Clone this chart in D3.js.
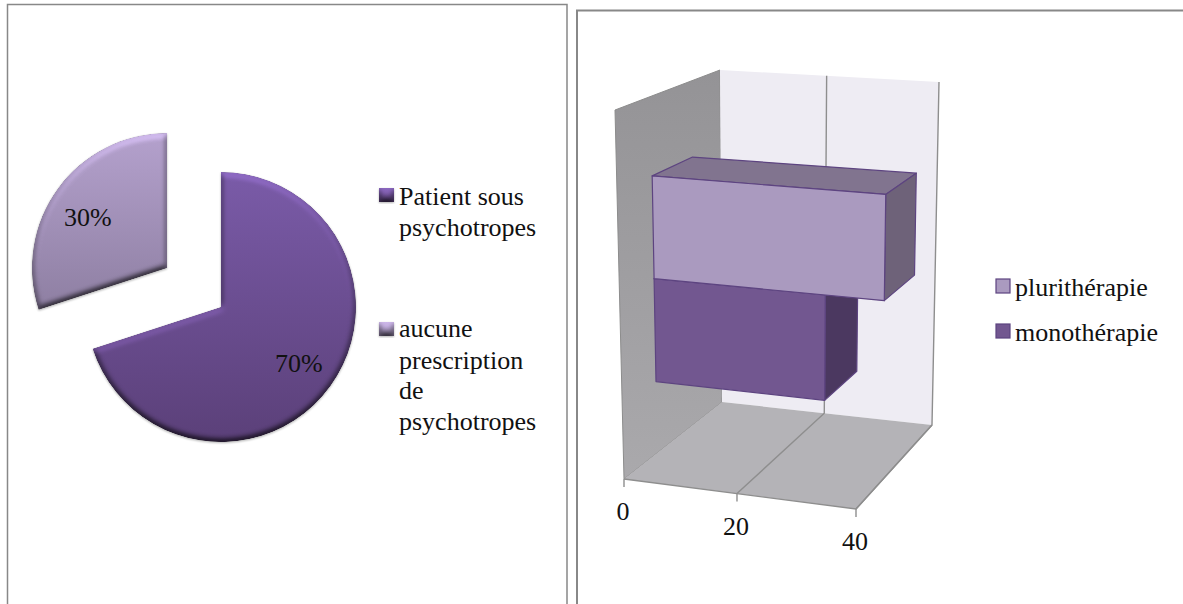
<!DOCTYPE html>
<html lang="fr">
<head>
    <meta charset="UTF-8">
    <title>Psychotropes</title>
    <style>
        html, body { margin: 0; padding: 0; background: #fff; overflow: hidden; }
        text { font-family: "Liberation Serif", serif; font-size: 26px; fill: #111; }
    </style>
</head>
<body>
<script src="https://cdn.jsdelivr.net/npm/d3@7"></script>
<script>
    // Data
    var pieLabels = ["Patient sous psychotropes", "aucune prescription de psychotropes"];
    var pieValues = [70, 30];
    var pieText = ["70%", "30%"];
    var barCategories = ["monothérapie", "plurithérapie"];
    var barValues = [30, 40];
    var xTicks = [0, 20, 40];

    var svg = d3.select("body").append("svg")
            .attr("width", 1183)
            .attr("height", 604);
    var defs = svg.append("defs");

    function gradient(id, top, bottom) {
        var g = defs.append("linearGradient").attr("id", id)
                .attr("x1", 0).attr("y1", 0).attr("x2", 0).attr("y2", 1);
        g.append("stop").attr("offset", "0%").attr("stop-color", top);
        g.append("stop").attr("offset", "100%").attr("stop-color", bottom);
    }
    gradient("gradDark", "#7a5ba8", "#5b4079");
    gradient("gradLight", "#b4a1cd", "#8e7fa2");
    gradient("gradWall", "#949396", "#aaa9ac");

    // Bevel look of the pie slices
    var bevel = defs.append("filter").attr("id", "bevel")
            .attr("x", "-10%").attr("y", "-10%").attr("width", "120%").attr("height", "120%")
            .attr("color-interpolation-filters", "sRGB");
    bevel.append("feGaussianBlur").attr("in", "SourceAlpha").attr("stdDeviation", 3).attr("result", "blur");
    var light = bevel.append("feDiffuseLighting").attr("in", "blur").attr("surfaceScale", 3.5)
            .attr("diffuseConstant", 1).attr("lighting-color", "#fff").attr("result", "lit");
    light.append("feDistantLight").attr("azimuth", 270).attr("elevation", 60);
    bevel.append("feComposite").attr("in", "SourceGraphic").attr("in2", "lit")
            .attr("operator", "arithmetic").attr("k1", 1.155).attr("k2", 0).attr("k3", 0).attr("k4", 0)
            .attr("result", "shaded");
    bevel.append("feComposite").attr("in", "shaded").attr("in2", "SourceAlpha")
            .attr("operator", "in").attr("result", "body");
    bevel.append("feGaussianBlur").attr("in", "SourceAlpha").attr("stdDeviation", 1).attr("result", "soft");
    bevel.append("feOffset").attr("in", "soft").attr("dx", 0).attr("dy", 1).attr("result", "off");
    bevel.append("feComponentTransfer").attr("in", "off").attr("result", "shadow")
            .append("feFuncA").attr("type", "linear").attr("slope", 0.3);
    var merge = bevel.append("feMerge");
    merge.append("feMergeNode").attr("in", "shadow");
    merge.append("feMergeNode").attr("in", "body");

    // Frames around the two charts
    var frame = d3.line();
    svg.append("path").attr("d", frame([[7.5, 604], [7.5, 4.5], [567, 4.5], [567, 604]]))
            .attr("fill", "none").attr("stroke", "#888").attr("stroke-width", 1.5);
    svg.append("path").attr("d", frame([[577, 604], [577, 10.5], [1183, 10.5]]))
            .attr("fill", "none").attr("stroke", "#888").attr("stroke-width", 2);

    // ---------- Pie ----------
    var pieColors = ["url(#gradDark)", "url(#gradLight)"];
    var pieOffsets = [[221, 307], [167, 268]];
    var pieRadius = 135;
    var arc = d3.arc().innerRadius(0).outerRadius(pieRadius);
    var slices = d3.pie().sort(null)(pieValues);

    svg.selectAll(".slice").data(slices).enter().append("path")
            .attr("class", "slice")
            .attr("transform", function(d, i) { return "translate(" + pieOffsets[i] + ")"; })
            .attr("d", arc)
            .attr("fill", function(d, i) { return pieColors[i]; })
            .attr("filter", "url(#bevel)");

    var pieTextPos = [[275, 372], [64, 226]];
    svg.selectAll(".pieText").data(pieText).enter().append("text")
            .attr("class", "pieText")
            .attr("x", function(d, i) { return pieTextPos[i][0]; })
            .attr("y", function(d, i) { return pieTextPos[i][1]; })
            .text(function(d) { return d; });

    // Pie legend
    var pieLegendLines = [
        [["Patient sous", 205], ["psychotropes", 236]],
        [["aucune", 337], ["prescription", 369], ["de", 399], ["psychotropes", 430]]
    ];
    var pieSwatchY = [188, 322];
    pieLabels.forEach(function(name, i) {
        svg.append("rect").attr("class", "swatch").attr("x", 379).attr("y", pieSwatchY[i])
                .attr("width", 15).attr("height", 14)
                .attr("fill", pieColors[i]).attr("filter", "url(#bevel)")
                .append("title").text(name);
        pieLegendLines[i].forEach(function(l) {
            svg.append("text").attr("x", 399).attr("y", l[1]).text(l[0]);
        });
    });

    // ---------- 3D bars ----------
    // Corners of the plot box on screen, by depth and height: [x = 0, x = max]
    var box = {
        front: { bottom: [[624, 479], [856, 509]], top: [[615, 110], [860, 128]] },
        back:  { bottom: [[722, 402], [932, 425]], top: [[720, 70], [939, 82]] }
    };
    // The perspective makes the first half of the axis a little shorter
    var x = d3.scaleLinear().domain([0, 20, 40]).range([0, 0.487, 1]);
    var band = d3.scaleBand().domain(barCategories).range([0.2, 0.777]);
    var barDepth = [0.34, 0.73];

    function lerp(a, b, t) { return [a[0] + (b[0] - a[0]) * t, a[1] + (b[1] - a[1]) * t]; }

    // u along the value axis, v up the height, w from front to back
    function project(u, v, w) {
        var bottom = lerp(lerp(box.front.bottom[0], box.front.bottom[1], u),
                lerp(box.back.bottom[0], box.back.bottom[1], u), w);
        var top = lerp(lerp(box.front.top[0], box.front.top[1], u),
                lerp(box.back.top[0], box.back.top[1], u), w);
        return lerp(bottom, top, v);
    }

    var face = d3.line().curve(d3.curveLinearClosed);
    var plot = svg.append("g");

    // Side wall, back wall, floor
    plot.append("path").attr("d", face([project(0, 0, 0), project(0, 1, 0), project(0, 1, 1), project(0, 0, 1)]))
            .attr("fill", "url(#gradWall)").attr("stroke", "#8c8c8c").attr("stroke-width", 1);
    plot.append("path").attr("d", face([project(0, 0, 1), project(0, 1, 1), project(1, 1, 1), project(1, 0, 1)]))
            .attr("fill", "#eeecf3");
    plot.append("path").attr("d", face([project(0, 0, 0), project(0, 0, 1), project(1, 0, 1), project(1, 0, 0)]))
            .attr("fill", "#b4b3b7");

    // Gridlines and value axis
    var edge = d3.line();
    xTicks.forEach(function(t) {
        var u = x(t);
        if (t > 0) {
            plot.append("path").attr("d", edge([project(u, 1, 1), project(u, 0, 1), project(u, 0, 0)]))
                    .attr("fill", "none").attr("stroke", "#8e8e8e").attr("stroke-width", 1.4);
        }
        var p = project(u, 0, 0);
        plot.append("path").attr("d", edge([p, [p[0], p[1] + 8]]))
                .attr("fill", "none").attr("stroke", "#8e8e8e").attr("stroke-width", 1.4);
        plot.append("text").attr("class", "tick").attr("x", p[0] - 1).attr("y", p[1] + 41)
                .attr("text-anchor", "middle").text(t);
    });
    plot.append("path").attr("d", edge([project(0, 0, 0), project(1, 0, 0), project(1, 0, 1)]))
            .attr("fill", "none").attr("stroke", "#8e8e8e").attr("stroke-width", 1.4);

    // Bars, the lower one first so that the upper one covers it
    var barColors = {
        "monothérapie": { front: "#725790", side: "#4b3860", top: "#5a4573" },
        "plurithérapie": { front: "#aa9abf", side: "#6e6279", top: "#81748f" }
    };
    barCategories.forEach(function(cat, i) {
        var u = x(barValues[i]);
        var v0 = band(cat), v1 = v0 + band.bandwidth();
        var w0 = barDepth[0], w1 = barDepth[1];
        var c = barColors[cat];
        var g = plot.append("g").attr("class", "bar")
                .attr("stroke", "#5d4480").attr("stroke-width", 1.2).attr("stroke-linejoin", "round");
        g.append("path").attr("d", face([project(0, v1, w0), project(0, v1, w1), project(u, v1, w1), project(u, v1, w0)]))
                .attr("fill", c.top);
        g.append("path").attr("d", face([project(u, v0, w0), project(u, v1, w0), project(u, v1, w1), project(u, v0, w1)]))
                .attr("fill", c.side);
        g.append("path").attr("d", face([project(0, v0, w0), project(0, v1, w0), project(u, v1, w0), project(u, v0, w0)]))
                .attr("fill", c.front);
    });

    // Bar legend
    var barLegendY = { "plurithérapie": 279, "monothérapie": 324 };
    barCategories.forEach(function(cat) {
        svg.append("rect").attr("x", 996).attr("y", barLegendY[cat])
                .attr("width", 14).attr("height", 14)
                .attr("fill", barColors[cat].front).attr("stroke", "#5d4480").attr("stroke-width", 1.2);
        svg.append("text").attr("x", 1015).attr("y", barLegendY[cat] + 17).text(cat);
    });
</script>
</body>
</html>
